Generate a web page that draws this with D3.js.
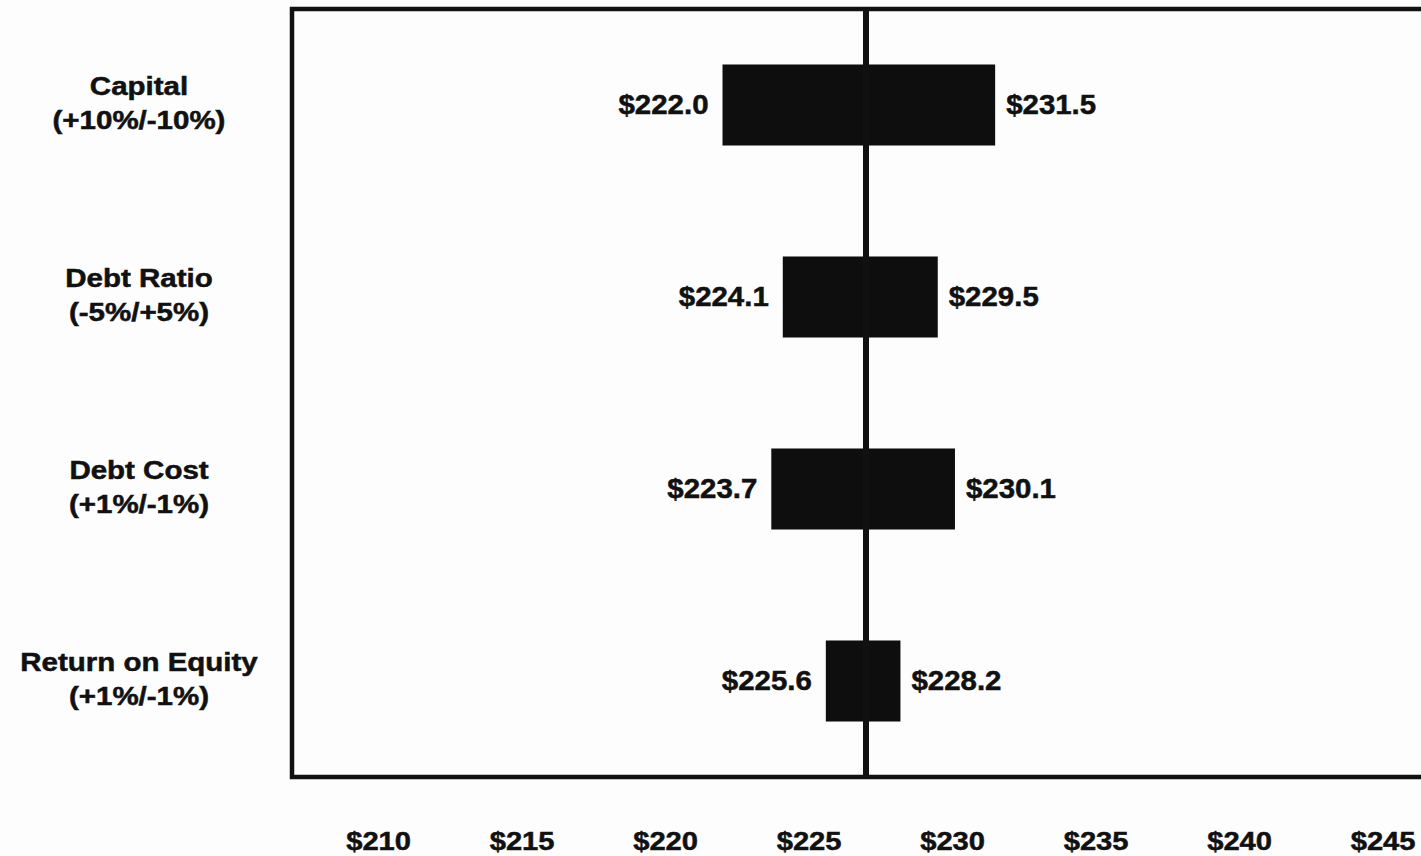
<!DOCTYPE html>
<html>
<head>
<meta charset="utf-8">
<script src="https://cdn.jsdelivr.net/npm/d3@7"></script>
<style>
  html, body { margin: 0; padding: 0; background: #fdfdfd; }
  svg { display: block; }
  text { font-family: "Liberation Sans", Arial, Helvetica, sans-serif; font-weight: bold; fill: #111; stroke: #111; stroke-width: 0.5px; }
</style>
</head>
<body>
<svg id="chart" width="1421" height="856"></svg>
<script>
// Sensitivity (tornado) chart of value per scenario
const driverNames = ["Capital", "Debt Ratio", "Debt Cost", "Return on Equity"];
const driverRanges = ["(+10%/-10%)", "(-5%/+5%)", "(+1%/-1%)", "(+1%/-1%)"];
const lowValues  = [222.0, 224.1, 223.7, 225.6];
const highValues = [231.5, 229.5, 230.1, 228.2];
const baseValue = 227.0;
const tickValues = [210, 215, 220, 225, 230, 235, 240, 245];

const svg = d3.select("#chart");
const plot = { left: 292, right: 1440, top: 9, bottom: 777 };

const x = d3.scaleLinear().domain([207, 247]).range([plot.left, plot.right]);
const y = d3.scaleBand().domain(driverNames).range([plot.top, plot.bottom])
  .paddingInner(0.578).paddingOuter(0.289);

const fmt = v => "$" + d3.format(".1f")(v);

// Bars
svg.append("g").selectAll("rect")
  .data(driverNames)
  .join("rect")
  .attr("x", (d, i) => x(lowValues[i]))
  .attr("y", d => y(d))
  .attr("width", (d, i) => x(highValues[i]) - x(lowValues[i]))
  .attr("height", y.bandwidth())
  .attr("fill", "#0e0e0e");

// Base value line
svg.append("line")
  .attr("x1", x(baseValue)).attr("x2", x(baseValue))
  .attr("y1", plot.top).attr("y2", plot.bottom)
  .attr("stroke", "#111").attr("stroke-width", 6);

// Plot frame
svg.append("rect")
  .attr("x", plot.left).attr("y", plot.top)
  .attr("width", plot.right - plot.left).attr("height", plot.bottom - plot.top)
  .attr("fill", "none").attr("stroke", "#111").attr("stroke-width", 4.5);

// Value labels
const valueLabels = svg.append("g");
driverNames.forEach((d, i) => {
  const cy = y(d) + y.bandwidth() / 2 + 9;
  valueLabels.append("g")
    .attr("transform", `translate(${x(lowValues[i]) - 14},${cy}) scale(1.09,1)`)
    .append("text").attr("text-anchor", "end").attr("font-size", 27)
    .text(fmt(lowValues[i]));
  valueLabels.append("g")
    .attr("transform", `translate(${x(highValues[i]) + 11},${cy}) scale(1.09,1)`)
    .append("text").attr("text-anchor", "start").attr("font-size", 27)
    .text(fmt(highValues[i]));
});

// Category labels
const catLabels = svg.append("g");
driverNames.forEach((d, i) => {
  const cy = y(d) + y.bandwidth() / 2;
  const g = catLabels.append("g")
    .attr("transform", `translate(139,${cy}) scale(1.18,1)`);
  g.append("text").attr("text-anchor", "middle").attr("font-size", 25)
    .attr("y", -10).text(d);
  g.append("text").attr("text-anchor", "middle").attr("font-size", 25)
    .attr("y", 24).text(driverRanges[i]);
});

// X axis tick labels (no tick marks or domain line)
const axis = svg.append("g")
  .attr("transform", `translate(0,${plot.bottom})`)
  .call(d3.axisBottom(x).tickValues(tickValues).tickSize(0).tickFormat(v => "$" + v));
axis.select(".domain").remove();
axis.attr("font-family", null).attr("font-size", null);
axis.selectAll(".tick text")
  .attr("y", 0).attr("dy", 0)
  .attr("font-size", 26.5)
  .attr("fill", "#111")
  .attr("transform", "translate(0,73) scale(1.1,1)");
</script>
</body>
</html>
